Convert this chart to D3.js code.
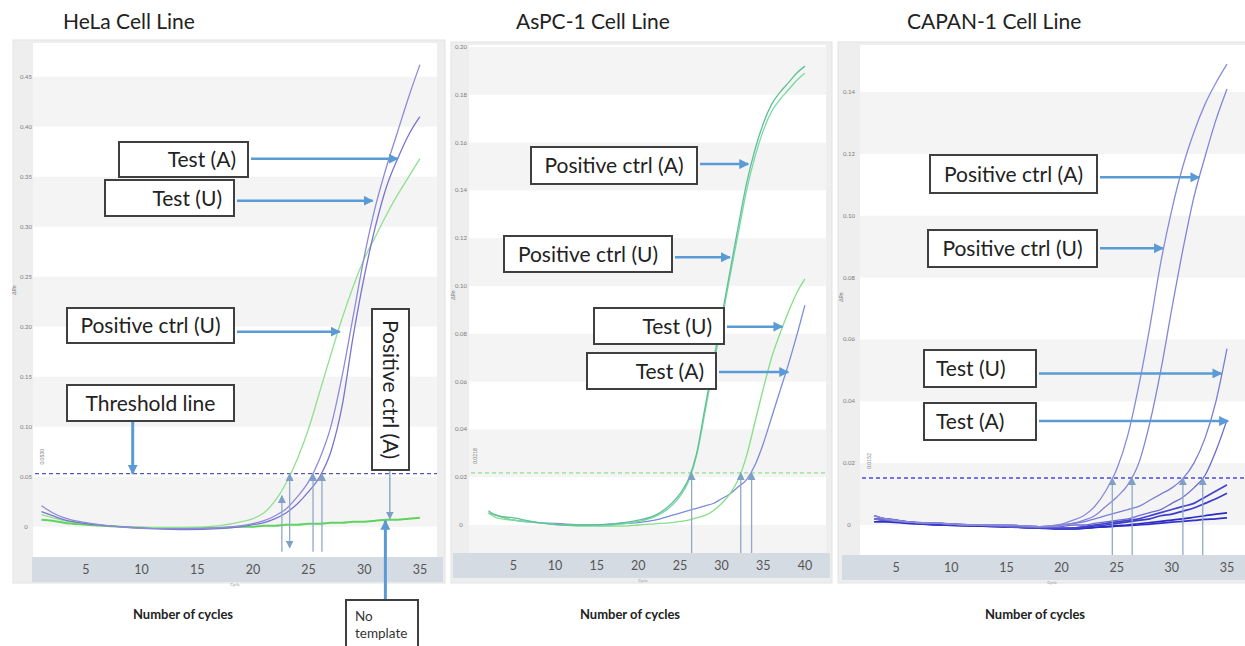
<!DOCTYPE html>
<html lang="en">
<head>
<meta charset="utf-8">
<title>qPCR amplification plots</title>
<style>
  body { margin: 0; background: #fff; }
  svg text { font-family: Lato, "Open Sans", sans-serif; }
</style>
<script src="https://d3js.org/d3.v7.min.js"></script>
</head>
<body>
<div id="viz"></div>
<script>

// ---------- HeLa ----------
var helaCycles = [1,2,3,5,8,11,14,17,19,20,21,22,23,24,25,26,27,28,29,30,31,32,33,34,35];
var helaTestU  = [0.021,0.014,0.009,0.004,0.0,-0.002,-0.002,-0.001,0.001,0.003,0.006,0.011,0.018,0.03,0.045,0.068,0.1,0.15,0.21,0.27,0.32,0.36,0.395,0.43,0.462];
var helaTestA  = [0.015,0.011,0.007,0.003,0.0,-0.002,-0.003,-0.002,0.0,0.002,0.004,0.008,0.014,0.023,0.035,0.05,0.075,0.12,0.19,0.25,0.3,0.34,0.368,0.392,0.41];
var helaPosU   = [0.012,0.009,0.006,0.003,0.0,-0.001,-0.001,0.001,0.005,0.008,0.014,0.026,0.044,0.068,0.098,0.135,0.172,0.208,0.24,0.268,0.29,0.312,0.332,0.35,0.368];
var helaNoTpl  = [0.007,0.006,0.004,0.002,0.0,-0.001,-0.001,-0.001,0.0,0.0,0.001,0.001,0.002,0.002,0.003,0.003,0.004,0.004,0.005,0.005,0.006,0.007,0.007,0.008,0.009];
var helaYTicks = [0,0.05,0.1,0.15,0.2,0.25,0.3,0.35,0.4,0.45];
var helaXTicks = [5,10,15,20,25,30,35];
var helaThreshold = 0.053;
var helaCtCycles = [22.6,23.3,25.4,26.2];
var helaCtTops   = [0.031,0.053,0.053,0.053];
var helaCtBoth   = [false,true,false,false];

// ---------- AsPC-1 ----------
var aspcCycles = [2,3,5,8,11,14,17,20,22,24,25,26,27,28,29,30,31,32,33,34,35,36,37,38,39,40];
var aspcPosA   = [0.006,0.004,0.003,0.001,0.0,0.0,0.0005,0.002,0.004,0.009,0.013,0.019,0.03,0.049,0.068,0.087,0.106,0.125,0.143,0.157,0.168,0.176,0.181,0.185,0.189,0.192];
var aspcPosU   = [0.005,0.004,0.002,0.001,0.0,-0.0005,0.0,0.0015,0.0035,0.008,0.012,0.018,0.029,0.047,0.066,0.085,0.104,0.122,0.14,0.154,0.165,0.173,0.178,0.182,0.186,0.189];
var aspcTestU  = [0.005,0.003,0.002,0.001,0.0,0.0,-0.0005,0.0,0.0005,0.001,0.0015,0.002,0.003,0.004,0.006,0.009,0.013,0.019,0.029,0.043,0.057,0.07,0.08,0.089,0.097,0.103];
var aspcTestA  = [0.005,0.004,0.002,0.001,0.0005,0.0,0.0005,0.001,0.002,0.004,0.005,0.006,0.007,0.008,0.009,0.011,0.013,0.016,0.019,0.025,0.034,0.045,0.056,0.067,0.079,0.092];
var aspcYTicks = [0,0.02,0.04,0.06,0.08,0.1,0.12,0.14,0.16,0.18,0.2];
var aspcXTicks = [5,10,15,20,25,30,35,40];
var aspcThreshold = 0.0218;
var aspcCtCycles = [26.4,32.3,33.6];

// ---------- CAPAN-1 ----------
var capanCycles = [3,4,6,9,12,15,18,20,21,22,23,24,25,26,27,28,29,30,31,32,33,34,35];
var capanPosU  = [0.003,0.002,0.001,0.0005,0.0,0.0,-0.0005,0.0003,0.0015,0.003,0.006,0.011,0.018,0.029,0.045,0.064,0.085,0.102,0.116,0.127,0.136,0.143,0.149];
var capanPosA  = [0.003,0.002,0.001,0.0005,0.0,0.0,-0.0005,0.0,0.0005,0.0015,0.003,0.006,0.009,0.013,0.02,0.033,0.05,0.07,0.089,0.106,0.119,0.131,0.141];
var capanTestU = [0.002,0.002,0.001,0.0005,0.0,0.0,-0.0005,0.0,0.0005,0.001,0.002,0.003,0.004,0.005,0.006,0.008,0.01,0.012,0.015,0.02,0.028,0.04,0.057];
var capanTestA = [0.002,0.0015,0.001,0.0005,0.0,-0.0005,-0.0008,-0.0005,0.0,0.0,0.0005,0.001,0.0015,0.002,0.003,0.004,0.005,0.007,0.009,0.012,0.016,0.024,0.034];
var capanLow1  = [0.003,0.002,0.001,0.0005,0.0,-0.0005,-0.001,-0.001,-0.001,-0.0005,0.0,0.0005,0.001,0.0015,0.002,0.003,0.004,0.005,0.006,0.007,0.009,0.011,0.013];
var capanLow2  = [0.002,0.002,0.001,0.0,0.0,-0.0005,-0.001,-0.0012,-0.001,-0.0008,-0.0003,0.0,0.0005,0.001,0.0015,0.002,0.003,0.0035,0.0045,0.0055,0.007,0.0085,0.0103];
var capanLow3  = [0.002,0.0015,0.0008,0.0,-0.0003,-0.0006,-0.001,-0.0013,-0.0013,-0.0011,-0.0008,-0.0005,-0.0002,0.0,0.0004,0.0008,0.0012,0.0016,0.002,0.0025,0.003,0.0035,0.0039];
var capanLow4  = [0.001,0.001,0.0005,0.0,-0.0003,-0.0006,-0.0009,-0.0012,-0.0012,-0.001,-0.0008,-0.0006,-0.0004,-0.0002,0.0,0.0003,0.0006,0.0009,0.0012,0.0015,0.0018,0.002,0.0023];
var capanYTicks = [0,0.02,0.04,0.06,0.08,0.1,0.12,0.14];
var capanXTicks = [5,10,15,20,25,30,35];
var capanThreshold = 0.0152;
var capanCtCycles = [24.6,26.4,31.0,32.8];

var W = 1245, H = 646;
var svg = d3.select('#viz').append('svg')
    .attr('width', W)
    .attr('height', H);

var defs = svg.append('defs');
function addMarker(id, color, size) {
  defs.append('marker')
    .attr('id', id)
    .attr('viewBox', '0 0 10 10')
    .attr('refX', 9).attr('refY', 5)
    .attr('markerWidth', size).attr('markerHeight', size)
    .attr('markerUnits', 'userSpaceOnUse')
    .attr('orient', 'auto-start-reverse')
    .append('path')
      .attr('d', 'M0,0L10,5L0,10Z')
      .attr('fill', color);
}
addMarker('bigArrow', '#5b9bd5', 10);
addMarker('ctArrow', '#7f9fc4', 8);

var fmt = function(v) { return v === 0 ? '0' : d3.format('.2f')(v); };

function drawPanel(p) {
  var g = svg.append('g');
  var x = d3.scaleLinear().domain(p.xDomain).range(p.xRange);
  var y = d3.scaleLinear().domain(p.yDomain).range(p.yRange);
  var pl = p.plot;

  // title
  g.append('text')
    .attr('x', p.titleX).attr('y', 29)
    .attr('font-size', 21).attr('fill', '#222')
    .text(p.title);

  // frame + plot background
  g.append('rect')
    .attr('x', p.frame[0]).attr('y', p.frame[1])
    .attr('width', p.frame[2]).attr('height', p.frame[3])
    .attr('fill', '#eeeeee').attr('stroke', '#e3e3e3');
  g.append('rect')
    .attr('x', pl[0]).attr('y', pl[1]).attr('width', pl[2]).attr('height', pl[3])
    .attr('fill', '#ffffff');

  // alternating horizontal bands
  var topVal = y.invert(pl[1]), botVal = y.invert(pl[1] + pl[3]);
  var edges = [topVal].concat(p.yTicks.slice().reverse()).concat([botVal]);
  for (var i = 0; i < edges.length - 1; i++) {
    if (i % 2 === 1) {
      g.append('rect')
        .attr('x', pl[0]).attr('width', pl[2])
        .attr('y', y(edges[i])).attr('height', y(edges[i + 1]) - y(edges[i]))
        .attr('fill', '#f4f4f4');
    }
  }

  // y tick labels (tiny, as in the instrument export)
  g.selectAll('.ylab').data(p.yTicks).enter().append('text')
    .attr('x', p.yLabelX).attr('y', function(d) { return y(d) + 2; })
    .attr('text-anchor', 'middle')
    .attr('font-size', 6).attr('fill', '#7a7a7a')
    .text(fmt);
  g.append('text')
    .attr('transform', 'translate(' + p.rnPos[0] + ',' + p.rnPos[1] + ') rotate(-90)')
    .attr('text-anchor', 'middle').attr('font-size', 5).attr('fill', '#777')
    .text('ΔRn');

  // x axis band
  g.append('rect')
    .attr('x', p.band[0]).attr('y', p.band[1]).attr('width', p.band[2]).attr('height', p.band[3])
    .attr('fill', '#d5dbe3');
  g.selectAll('.xlab').data(p.xTicks).enter().append('text')
    .attr('x', function(d) { return x(d); })
    .attr('y', p.band[1] + p.band[3] / 2 + 4.5)
    .attr('text-anchor', 'middle')
    .attr('font-size', 12.5).attr('fill', '#555')
    .text(function(d) { return d; });
  g.append('text')
    .attr('x', p.cycleLabelX).attr('y', p.band[1] + p.band[3] + 4)
    .attr('text-anchor', 'middle').attr('font-size', 4).attr('fill', '#999')
    .text('Cycle');
  g.append('text')
    .attr('x', p.axisTitleX).attr('y', 619)
    .attr('text-anchor', 'middle')
    .attr('font-size', 13).attr('font-weight', 'bold').attr('fill', '#222')
    .text('Number of cycles');

  // threshold
  g.append('line')
    .attr('x1', pl[0] + 2).attr('x2', pl[0] + pl[2])
    .attr('y1', y(p.threshold)).attr('y2', y(p.threshold))
    .attr('stroke', p.thresholdColor).attr('stroke-width', 1.3)
    .attr('stroke-dasharray', '4,3');
  g.append('text')
    .attr('transform', 'translate(' + p.thrLabelX + ',' + (y(p.threshold) - 17) + ') rotate(-90)')
    .attr('text-anchor', 'middle').attr('font-size', 5).attr('fill', '#777')
    .text(p.threshold.toFixed(4));

  // amplification curves
  var line = d3.line()
    .x(function(d) { return x(d[0]); })
    .y(function(d) { return y(d[1]); })
    .curve(d3.curveMonotoneX);
  p.series.forEach(function(s) {
    g.append('path')
      .datum(d3.zip(p.cycles, s.values))
      .attr('d', line)
      .attr('fill', 'none')
      .attr('stroke', s.color)
      .attr('stroke-width', s.width || 1.3);
  });

  // Ct markers
  p.ctCycles.forEach(function(c, i) {
    var top = p.ctTops ? p.ctTops[i] : p.threshold;
    var l = g.append('line')
      .attr('x1', x(c)).attr('x2', x(c))
      .attr('y1', y(p.ctBottom)).attr('y2', y(top))
      .attr('stroke', '#8fa9c9').attr('stroke-width', 1.3)
      .attr('marker-end', 'url(#ctArrow)');
    if (p.ctBoth && p.ctBoth[i]) {
      l.attr('y1', y(p.ctBottom) - 4).attr('marker-start', 'url(#ctArrow)');
    }
  });

  // annotation boxes + arrows
  p.notes.forEach(function(n) {
    var b = n.box;
    var tx = x(n.tip[0]), ty = y(n.tip[1]);
    if (n.dir === 'down' || n.dir === 'up') {
      var sy = n.dir === 'down' ? b[1] + b[3] : b[1];
      g.append('line')
        .attr('x1', tx).attr('x2', tx).attr('y1', sy).attr('y2', ty)
        .attr('stroke', n.thin ? '#7f9fc4' : '#5b9bd5')
        .attr('stroke-width', n.thin ? 1.3 : 3)
        .attr('marker-end', n.thin ? 'url(#ctArrow)' : 'url(#bigArrow)');
    } else {
      g.append('line')
        .attr('x1', b[0] + b[2] + 3).attr('x2', tx)
        .attr('y1', ty).attr('y2', ty)
        .attr('stroke', '#5b9bd5').attr('stroke-width', 2.5)
        .attr('marker-end', 'url(#bigArrow)');
    }
    g.append('rect')
      .attr('x', b[0]).attr('y', b[1]).attr('width', b[2]).attr('height', b[3])
      .attr('fill', '#fff').attr('stroke', '#3f3f3f').attr('stroke-width', 2);
    if (n.lines) {
      n.lines.forEach(function(t, k) {
        g.append('text')
          .attr('x', b[0] + 9).attr('y', b[1] + 21 + k * 17)
          .attr('font-size', 13.5).attr('fill', '#333')
          .text(t);
      });
    } else if (n.rotate) {
      var cx = b[0] + b[2] / 2, cy = b[1] + b[3] / 2;
      g.append('text')
        .attr('transform', 'translate(' + cx + ',' + cy + ') rotate(90)')
        .attr('y', 7.5)
        .attr('text-anchor', 'middle')
        .attr('font-size', 21).attr('fill', '#222')
        .text(n.label);
    } else {
      var anchor = n.align || 'middle';
      var ax = anchor === 'end' ? b[0] + b[2] - 12 : anchor === 'start' ? b[0] + 12 : b[0] + b[2] / 2;
      g.append('text')
        .attr('x', ax).attr('y', b[1] + b[3] / 2 + 7.5)
        .attr('text-anchor', anchor)
        .attr('font-size', 21).attr('fill', '#222')
        .text(n.label);
    }
  });
}

drawPanel({
  title: 'HeLa Cell Line', titleX: 63,
  frame: [13, 40, 432, 543], plot: [33, 43, 404, 514], band: [32, 557, 411, 25],
  xDomain: [0, 35], xRange: [30.3, 419.9],
  yDomain: [0, 0.45], yRange: [526.7, 76.7],
  xTicks: helaXTicks, yTicks: helaYTicks, yLabelX: 26, rnPos: [16, 290],
  cycleLabelX: 235, axisTitleX: 183, thrLabelX: 44,
  threshold: helaThreshold, thresholdColor: '#5656b8',
  cycles: helaCycles,
  series: [
    { values: helaNoTpl, color: '#5ed45e', width: 2 },
    { values: helaPosU, color: '#8fe08f' },
    { values: helaTestA, color: '#7a74cf' },
    { values: helaTestU, color: '#8f8ad9' }
  ],
  ctCycles: helaCtCycles, ctTops: helaCtTops, ctBoth: helaCtBoth, ctBottom: -0.025,
  notes: [
    { label: 'Test (A)', box: [119, 142, 129, 35], tip: [33.0, 0.368], align: 'end' },
    { label: 'Test (U)', box: [105, 180, 129, 36], tip: [30.75, 0.326], align: 'end' },
    { label: 'Positive ctrl (U)', box: [67, 308, 167, 35], tip: [27.8, 0.195] },
    { label: 'Threshold line', box: [67, 385, 167, 36], tip: [9.2, 0.053], dir: 'down' },
    { label: 'Positive ctrl (A)', box: [372, 309, 37, 161], tip: [32.3, 0.008], dir: 'down', thin: true, rotate: true },
    { lines: ['No', 'template'], box: [346, 600, 72, 60], tip: [31.9, 0.006], dir: 'up' }
  ]
});

drawPanel({
  title: 'AsPC-1 Cell Line', titleX: 516,
  frame: [451, 42, 381, 541], plot: [469, 45, 357, 508], band: [453, 553, 377, 25],
  xDomain: [0, 40], xRange: [471.7, 804.9],
  yDomain: [0, 0.2], yRange: [525, 47],
  xTicks: aspcXTicks, yTicks: aspcYTicks, yLabelX: 461, rnPos: [455, 295],
  cycleLabelX: 643, axisTitleX: 630, thrLabelX: 477,
  threshold: aspcThreshold, thresholdColor: '#8fe28f',
  cycles: aspcCycles,
  series: [
    { values: aspcTestA, color: '#7c8bdc' },
    { values: aspcTestU, color: '#86df86' },
    { values: aspcPosU, color: '#78d8a4' },
    { values: aspcPosA, color: '#5fbf98' }
  ],
  ctCycles: aspcCtCycles, ctBottom: -0.0117,
  notes: [
    { label: 'Positive ctrl (A)', box: [531, 147, 166, 37], tip: [33.2, 0.151] },
    { label: 'Positive ctrl (U)', box: [504, 236, 168, 36], tip: [31.0, 0.112] },
    { label: 'Test (U)', box: [594, 308, 130, 36], tip: [37.3, 0.083], align: 'end' },
    { label: 'Test (A)', box: [587, 353, 129, 36], tip: [38.0, 0.064], align: 'end' }
  ]
});

drawPanel({
  title: 'CAPAN-1 Cell Line', titleX: 907,
  frame: [838, 42, 410, 541], plot: [860, 45, 385, 510], band: [842, 555, 403, 25],
  xDomain: [0, 35], xRange: [841, 1227],
  yDomain: [0, 0.14], yRange: [525, 92],
  xTicks: capanXTicks, yTicks: capanYTicks, yLabelX: 849, rnPos: [843, 297],
  cycleLabelX: 1052, axisTitleX: 1035, thrLabelX: 871,
  threshold: capanThreshold, thresholdColor: '#4a4ae0',
  cycles: capanCycles,
  series: [
    { values: capanLow4, color: '#3030c8', width: 1.7 },
    { values: capanLow3, color: '#2c2cc4', width: 1.7 },
    { values: capanLow2, color: '#3c3cca', width: 1.7 },
    { values: capanLow1, color: '#4444cc', width: 1.7 },
    { values: capanTestA, color: '#6a6ad0' },
    { values: capanTestU, color: '#7c7cd6' },
    { values: capanPosA, color: '#8484d8' },
    { values: capanPosU, color: '#8a8ada' }
  ],
  ctCycles: capanCtCycles, ctBottom: -0.0097,
  notes: [
    { label: 'Positive ctrl (A)', box: [930, 155, 167, 38], tip: [32.5, 0.1124] },
    { label: 'Positive ctrl (U)', box: [928, 230, 169, 37], tip: [29.2, 0.0895] },
    { label: 'Test (U)', box: [924, 350, 112, 37], tip: [34.5, 0.049], align: 'start' },
    { label: 'Test (A)', box: [924, 403, 112, 37], tip: [35.1, 0.0336], align: 'start' }
  ]
});

</script>
</body>
</html>
